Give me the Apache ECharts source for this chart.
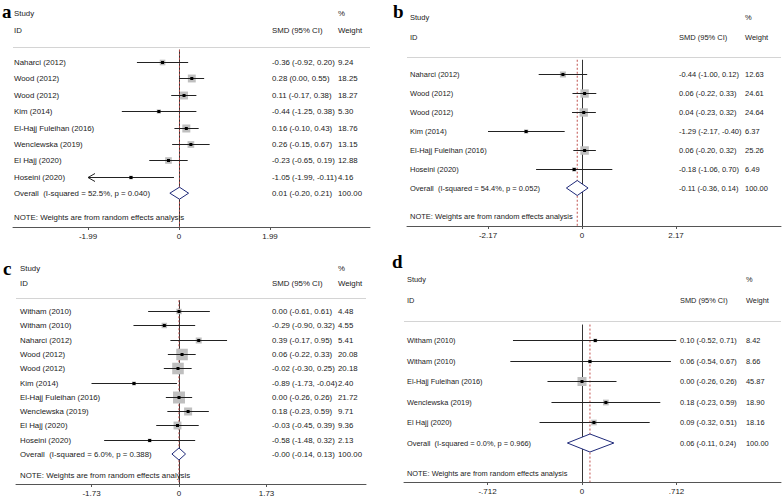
<!DOCTYPE html>
<html><head><meta charset="utf-8">
<script src="https://cdn.jsdelivr.net/npm/echarts@6/dist/echarts.min.js"></script>
<style>html,body{margin:0;padding:0;background:#fff}#c{width:784px;height:498px}</style>
</head><body><div id="c"></div>
<script>
// ---------- Panel a ----------
const studiesA = ['Naharci (2012)','Wood (2012)','Wood (2012)','Kim (2014)','El-Hajj Fuleihan (2016)','Wenclewska (2019)','El Hajj (2020)','Hoseini (2020)'];
const smdA    = [-0.36, 0.28, 0.11, -0.44, 0.16, 0.26, -0.23, -1.05];
const lowA    = [-0.92, 0.00, -0.17, -1.25, -0.10, -0.15, -0.65, -1.99];
const highA   = [0.20, 0.55, 0.38, 0.38, 0.43, 0.67, 0.19, -0.11];
const weightA = [9.24, 18.25, 18.27, 5.30, 18.76, 13.15, 12.88, 4.16];
const truncA  = [false, false, false, false, false, false, false, true];
const overallA = [0.01, -0.20, 0.21];
const overallLabelA = 'Overall  (I-squared = 52.5%, p = 0.040)';
const ticksA = [-1.99, 0, 1.99];
const tickLabelsA = ['-1.99', '0', '1.99'];

// ---------- Panel b ----------
const studiesB = ['Naharci (2012)','Wood (2012)','Wood (2012)','Kim (2014)','El-Hajj Fuleihan (2016)','Hoseini (2020)'];
const smdB    = [-0.44, 0.06, 0.04, -1.29, 0.06, -0.18];
const lowB    = [-1.00, -0.22, -0.23, -2.17, -0.20, -1.06];
const highB   = [0.12, 0.33, 0.32, -0.40, 0.32, 0.70];
const weightB = [12.63, 24.61, 24.64, 6.37, 25.26, 6.49];
const overallB = [-0.11, -0.36, 0.14];
const overallLabelB = 'Overall  (I-squared = 54.4%, p = 0.052)';
const ticksB = [-2.17, 0, 2.17];
const tickLabelsB = ['-2.17', '0', '2.17'];

// ---------- Panel c ----------
const studiesC = ['Witham (2010)','Witham (2010)','Naharci (2012)','Wood (2012)','Wood (2012)','Kim (2014)','El-Hajj Fuleihan (2016)','Wenclewska (2019)','El Hajj (2020)','Hoseini (2020)'];
const smdC    = [0.00, -0.29, 0.39, 0.06, -0.02, -0.89, 0.00, 0.18, -0.03, -0.58];
const lowC    = [-0.61, -0.90, -0.17, -0.22, -0.30, -1.73, -0.26, -0.23, -0.45, -1.48];
const highC   = [0.61, 0.32, 0.95, 0.33, 0.25, -0.04, 0.26, 0.59, 0.39, 0.32];
const weightC = [4.48, 4.55, 5.41, 20.08, 20.18, 2.40, 21.72, 9.71, 9.36, 2.13];
const overallC = [-0.001, -0.14, 0.13];
const overallLabelC = 'Overall  (I-squared = 6.0%, p = 0.388)';
const ticksC = [-1.73, 0, 1.73];
const tickLabelsC = ['-1.73', '0', '1.73'];

// ---------- Panel d ----------
const studiesD = ['Witham (2010)','Witham (2010)','El-Hajj Fuleihan (2016)','Wenclewska (2019)','El Hajj (2020)'];
const smdD    = [0.10, 0.06, 0.00, 0.18, 0.09];
const lowD    = [-0.52, -0.54, -0.26, -0.23, -0.32];
const highD   = [0.71, 0.67, 0.26, 0.59, 0.51];
const weightD = [8.42, 8.66, 45.87, 18.90, 18.16];
const overallD = [0.06, -0.11, 0.24];
const overallLabelD = 'Overall  (I-squared = 0.0%, p = 0.966)';
const ticksD = [-0.712, 0, 0.712];
const tickLabelsD = ['-.712', '0', '.712'];

const noteText = 'NOTE: Weights are from random effects analysis';

// ---------- layout (pixels / styles) ----------
const LAY = {
  a: {x0:13, x1:370, zeroX:179, unitPx:91/1.99, nameX:14, smdX:272, wX:338, studyY:15, row0:62, sp:16.4, axisY:227, boxMax:8, font:7.85, dH:6, letter:'a', lx:2, ly:11.5},
  b: {x0:407, x1:781, zeroX:582, unitPx:94/2.17, nameX:410, smdX:679, wX:745, studyY:17, row0:74, sp:19, axisY:226, boxMax:8.5, font:7.5, dH:7.5, letter:'b', lx:393, ly:11.5},
  c: {x0:16, x1:366, zeroX:179, unitPx:87.5/1.73, nameX:20, smdX:272, wX:338, studyY:269, row0:311, sp:14.3, axisY:484, boxMax:12, font:7.85, dH:6, letter:'c', lx:3, ly:268},
  d: {x0:404, x1:781, zeroX:582, unitPx:94.5/0.712, nameX:407, smdX:680, wX:746, studyY:279, row0:340, sp:20.6, axisY:482, boxMax:9, font:7.4, dH:9, letter:'d', lx:392, ly:261}
};

const panels = [
  {lay:LAY.a, names:studiesA, smd:smdA, low:lowA, high:highA, w:weightA, trunc:truncA, ov:overallA, ovLabel:overallLabelA, ticks:ticksA, tickLabels:tickLabelsA},
  {lay:LAY.b, names:studiesB, smd:smdB, low:lowB, high:highB, w:weightB, trunc:null, ov:overallB, ovLabel:overallLabelB, ticks:ticksB, tickLabels:tickLabelsB},
  {lay:LAY.c, names:studiesC, smd:smdC, low:lowC, high:highC, w:weightC, trunc:null, ov:overallC, ovLabel:overallLabelC, ticks:ticksC, tickLabels:tickLabelsC},
  {lay:LAY.d, names:studiesD, smd:smdD, low:lowD, high:highD, w:weightD, trunc:null, ov:overallD, ovLabel:overallLabelD, ticks:ticksD, tickLabels:tickLabelsD}
];

const FONT = '"Liberation Sans", Arial, sans-serif';
const TXT = '#222';
const f2 = v => v.toFixed(2);
const ciText = (e, l, h) => f2(e) + ' (' + f2(l) + ', ' + f2(h) + ')';

function txt(s, x, y, lay) {
  return {type:'text', style:{text:s, x:x, y:y, fill:TXT, font: lay.font + 'px ' + FONT, align:'left', verticalAlign:'middle'}};
}
const crisp = y => Math.round(y) + 0.5;

const grids = [], xAxes = [], yAxes = [], series = [];
panels.forEach((p, gi) => {
  const L = p.lay;
  grids.push({left:L.x0, top:L.studyY, width:L.x1 - L.x0, height:L.axisY - L.studyY, outerBoundsMode:'none', containLabel:false});
  xAxes.push({
    type:'value', gridIndex:gi,
    min:(L.x0 - L.zeroX) / L.unitPx, max:(L.x1 - L.zeroX) / L.unitPx,
    splitLine:{show:false},
    axisLine:{show:true, onZero:false, lineStyle:{color:'#555', width:1}},
    axisTick:{show:true, customValues:p.ticks, length:3, lineStyle:{color:'#555'}},
    axisLabel:{show:true, customValues:p.ticks, margin:5, fontSize:8, fontFamily:FONT, color:TXT,
      formatter: v => { const k = p.ticks.findIndex(t => Math.abs(t - v) < 1e-6); return k >= 0 ? p.tickLabels[k] : ''; }}
  });
  yAxes.push({type:'value', gridIndex:gi, inverse:true, show:false,
    min:(L.studyY - L.row0) / L.sp, max:(L.axisY - L.row0) / L.sp});

  const n = p.names.length;
  const wmax = Math.max(...p.w);

  // header, separator, note, reference lines
  series.push({
    type:'custom', xAxisIndex:gi, yAxisIndex:gi, silent:true, z:1,
    data:[[0]],
    renderItem(params, api) {
      const cs = params.coordSys;
      const yStudy = api.coord([0, -2.95])[1];
      const yID = api.coord([0, -1.9])[1];
      const ySep = crisp(api.coord([0, -0.9])[1]);
      const yTop = api.coord([0, -0.75])[1];
      const yBot = cs.y + cs.height;
      const yNote = api.coord([0, n + 1.5])[1];
      const x0 = Math.round(api.coord([0, 0])[0]) + 0.5;
      const xo = api.coord([p.ov[0], 0])[0];
      return {type:'group', children:[
        {type:'line', shape:{x1:L.x0, y1:ySep, x2:L.x1, y2:ySep}, style:{stroke:'#d4d4d4', lineWidth:1}},
        {type:'line', shape:{x1:x0, y1:yTop, x2:x0, y2:yBot}, style:{stroke:'#333', lineWidth:1}},
        {type:'line', shape:{x1:xo, y1:yTop, x2:xo, y2:yBot}, style:{stroke:'#c0504d', lineWidth:1, lineDash:[2, 2]}},
        txt('Study', L.nameX, yStudy, L),
        txt('ID', L.nameX, yID, L),
        txt('%', L.wX, yStudy, L),
        txt('SMD (95% CI)', L.smdX, yID, L),
        txt('Weight', L.wX, yID, L),
        txt(noteText, L.nameX, yNote, L)
      ]};
    }
  });

  // study rows
  series.push({
    type:'custom', xAxisIndex:gi, yAxisIndex:gi, silent:true, z:3,
    data: p.smd.map((v, i) => [i, v, p.low[i], p.high[i], p.w[i]]),
    renderItem(params, api) {
      const i = params.dataIndex;
      const row = api.value(0), est = api.value(1), lo = api.value(2), hi = api.value(3), w = api.value(4);
      const c = api.coord([est, row]);
      const y = crisp(c[1]);
      const xl = api.coord([lo, row])[0], xh = api.coord([hi, row])[0];
      const s = L.boxMax * Math.sqrt(w / wmax);
      const ch = [
        {type:'rect', shape:{x:c[0] - s / 2, y:y - s / 2, width:s, height:s}, style:{fill:'#bfbfbf'}},
        {type:'line', shape:{x1:xl, y1:y, x2:xh, y2:y}, style:{stroke:'#222', lineWidth:1}}
      ];
      if (p.trunc && p.trunc[i]) {
        ch.push({type:'polyline', shape:{points:[[xl + 7, y - 4], [xl, y], [xl + 7, y + 4]]}, style:{stroke:'#222', fill:null, lineWidth:1}});
      }
      ch.push({type:'rect', shape:{x:c[0] - 1.5, y:y - 1.5, width:3, height:3}, style:{fill:'#000'}});
      ch.push(txt(p.names[i], L.nameX, y, L));
      ch.push(txt(ciText(est, lo, hi), L.smdX, y, L));
      ch.push(txt(f2(w), L.wX, y, L));
      return {type:'group', children:ch};
    }
  });

  // overall diamond
  series.push({
    type:'custom', xAxisIndex:gi, yAxisIndex:gi, silent:true, z:4,
    data:[[n, p.ov[0], p.ov[1], p.ov[2]]],
    renderItem(params, api) {
      const row = api.value(0), est = api.value(1), lo = api.value(2), hi = api.value(3);
      const c = api.coord([est, row]);
      const y = c[1];
      const xl = api.coord([lo, row])[0], xh = api.coord([hi, row])[0];
      return {type:'group', children:[
        {type:'polygon', shape:{points:[[xl, y], [c[0], y - L.dH], [xh, y], [c[0], y + L.dH]]}, style:{fill:'#fff', stroke:'#1f2a7a', lineWidth:1}},
        txt(p.ovLabel, L.nameX, y, L),
        txt(ciText(est, lo, hi), L.smdX, y, L),
        txt('100.00', L.wX, y, L)
      ]};
    }
  });
});

const graphics = panels.map(p => ({
  type:'text', x:p.lay.lx, y:p.lay.ly,
  style:{text:p.lay.letter, font:'bold 19px "Liberation Serif", "Times New Roman", serif', fill:'#000', textVerticalAlign:'middle', verticalAlign:'middle'}
}));

const chart = echarts.init(document.getElementById('c'), null, {renderer:'svg'});
chart.setOption({
  animation:false,
  backgroundColor:'#fff',
  grid:grids, xAxis:xAxes, yAxis:yAxes, series:series, graphic:graphics
});
</script></body></html>
